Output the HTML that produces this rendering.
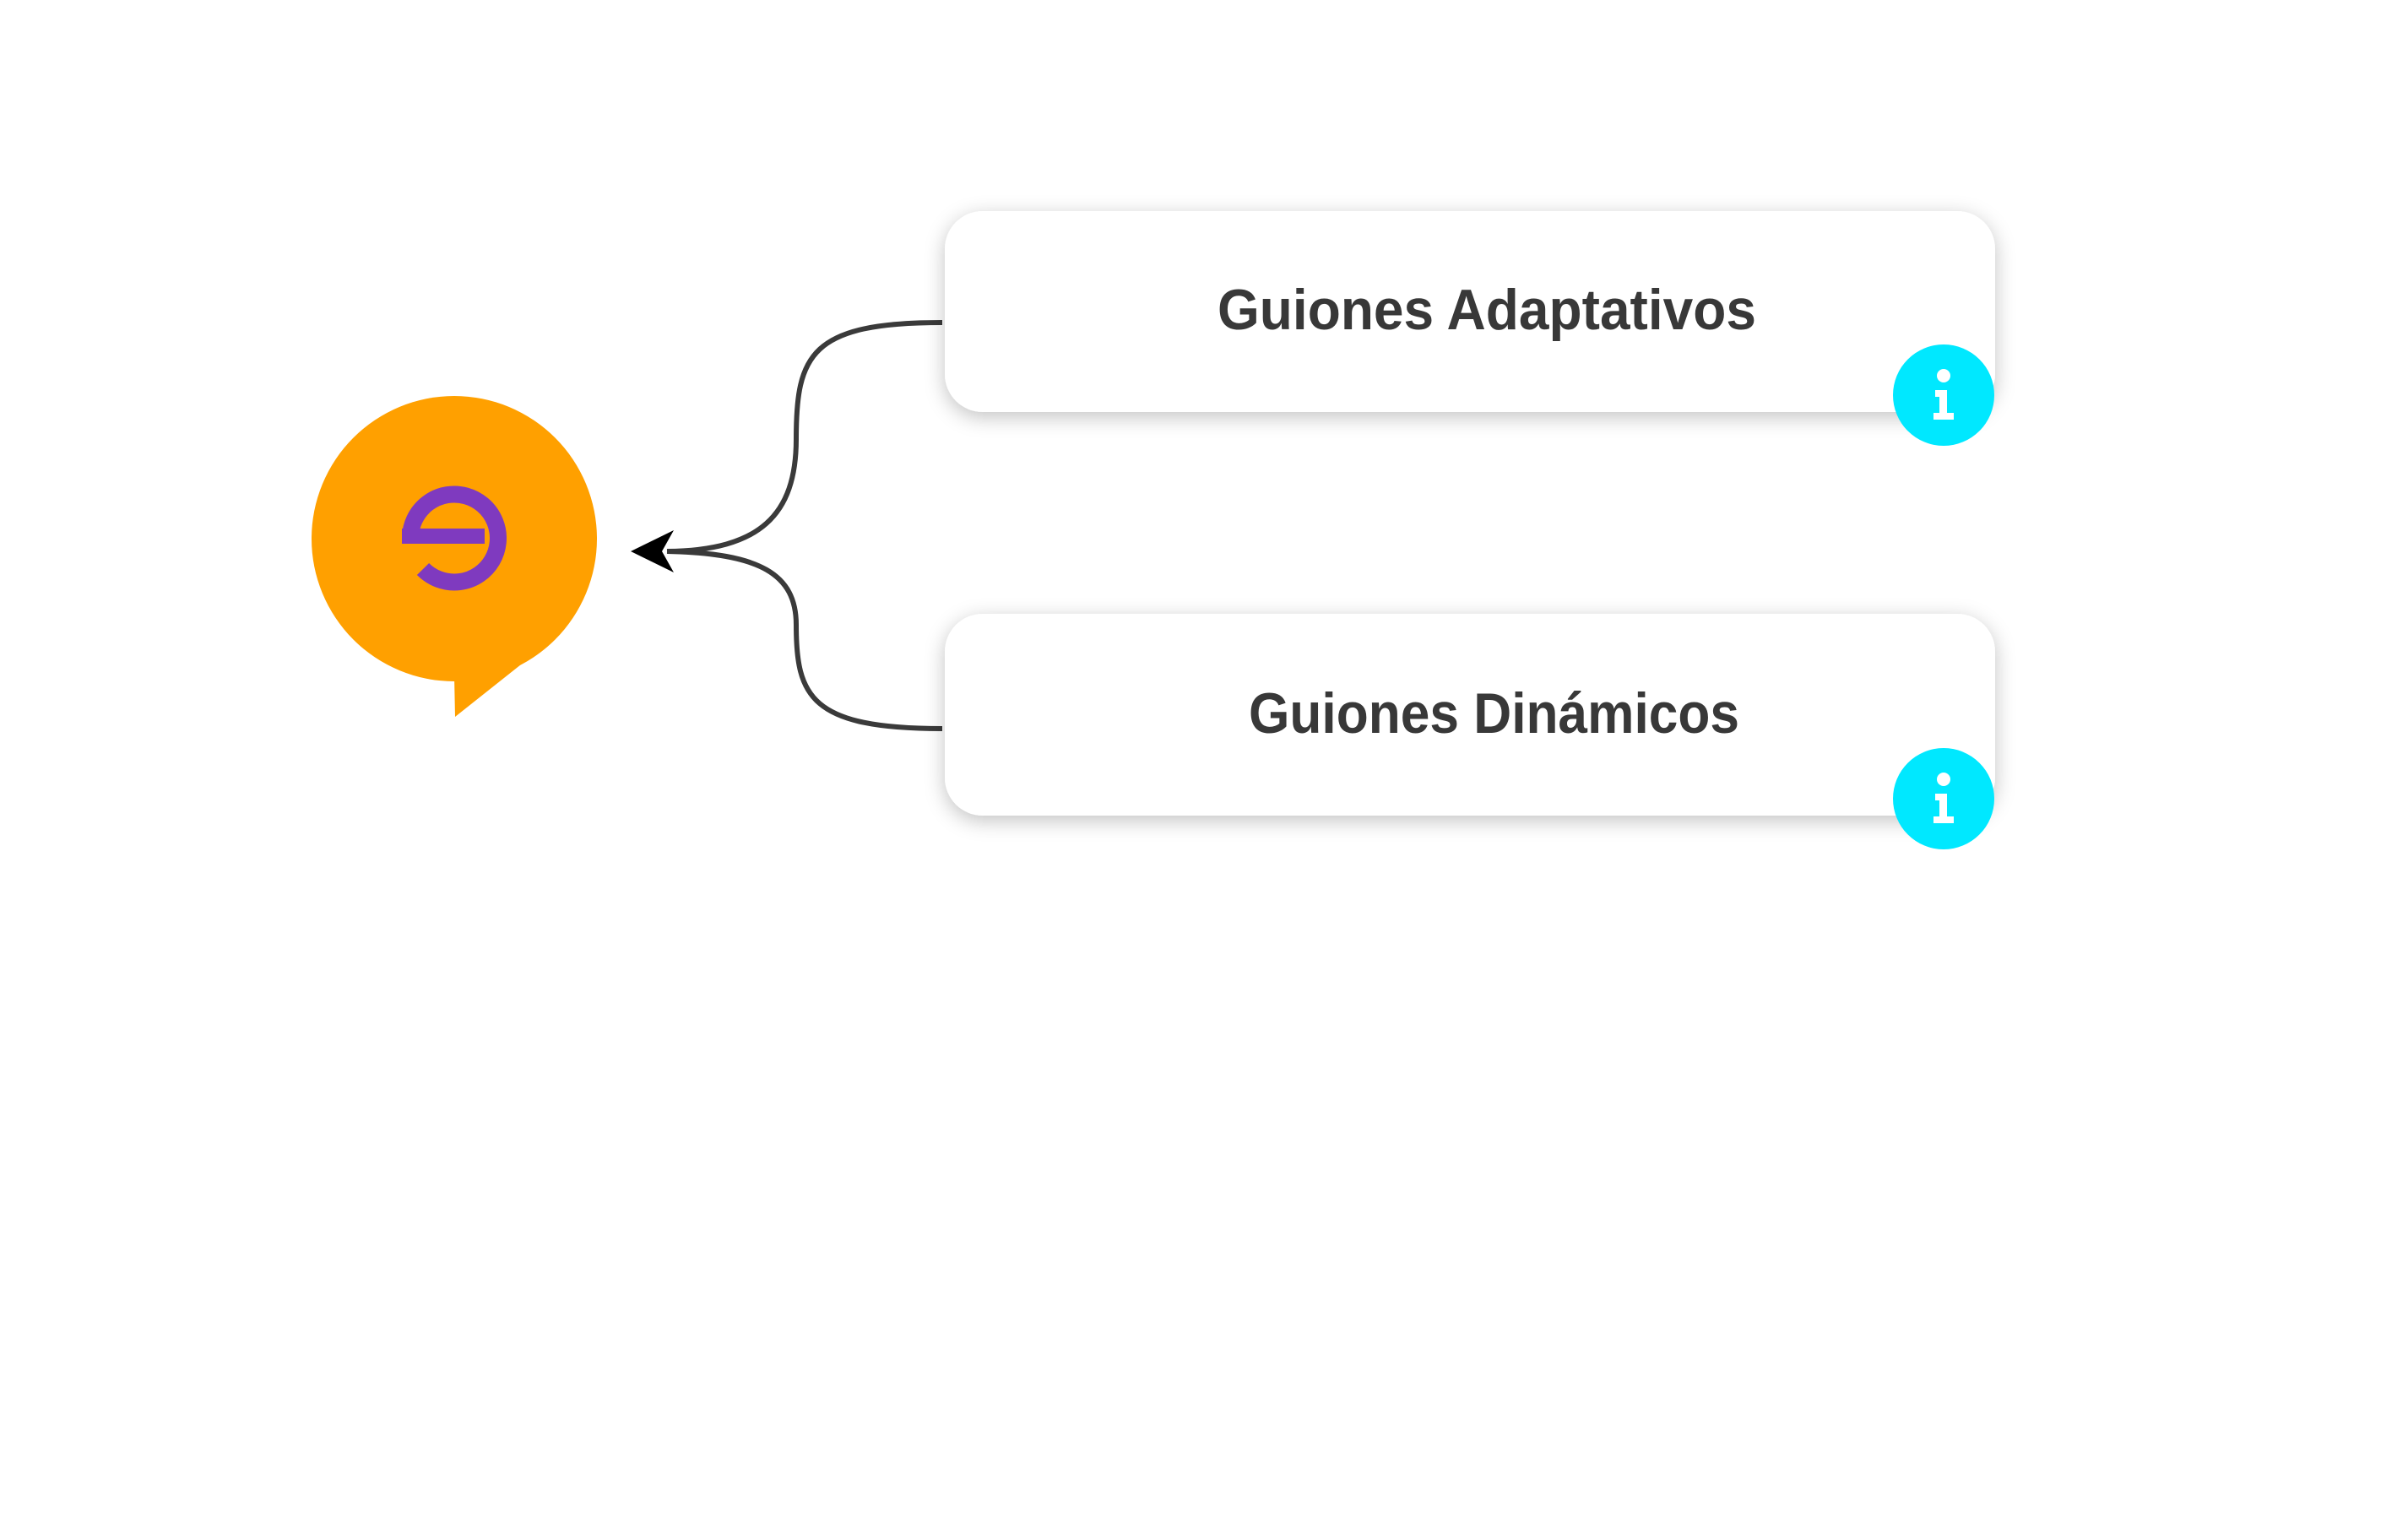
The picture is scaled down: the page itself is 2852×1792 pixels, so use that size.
<!DOCTYPE html>
<html><head><meta charset="utf-8"><style>
html,body{margin:0;padding:0;background:#fff;}
svg{display:block;}
</style></head><body>
<svg width="2852" height="1792" viewBox="0 0 2852 1792" xmlns="http://www.w3.org/2000/svg">
<defs>
<filter id="sh" x="-10%" y="-30%" width="120%" height="160%">
<feDropShadow dx="0" dy="6" stdDeviation="12" flood-color="#000" flood-opacity="0.24"/>
</filter>
</defs>
<rect width="2852" height="1792" fill="#fff"/>
<g fill="none" stroke="#3a3a3a" stroke-width="6">
<path d="M1116 382 C960 382 943 420 943 520 C943 610 900 652 790 653"/>
<path d="M1116 863 C960 863 943 825 943 740 C943 680 900 655 790 653"/>
</g>
<path d="M747 653 L798 628 L784 653 L798 678 Z" fill="#000"/>
<circle cx="538" cy="638" r="169" fill="#ffa000"/>
<path d="M538 800 L539 849 L636 772 L600 760 Z" fill="#ffa000"/>
<g fill="none" stroke="#7f3abf" stroke-width="20">
<path d="M486 644 L486 637 A52 52 0 1 1 501 674"/>
</g>
<rect x="476" y="626" width="98" height="18" fill="#7f3abf"/>
<rect x="1119" y="250" width="1244" height="238" rx="45" fill="#fff" filter="url(#sh)"/>
<rect x="1119" y="727" width="1244" height="239" rx="45" fill="#fff" filter="url(#sh)"/>
<g font-family="Liberation Sans, sans-serif" font-weight="bold" font-size="68" fill="#383838">
<text x="1442" y="390" textLength="638" lengthAdjust="spacingAndGlyphs">Guiones Adaptativos</text>
<text x="1479" y="868" textLength="581" lengthAdjust="spacingAndGlyphs">Guiones Dinámicos</text>
</g>
<g>
<circle cx="2302" cy="468" r="60" fill="#00e8ff"/>
<circle cx="2302" cy="445" r="8" fill="#fff"/>
<path d="M2292 462 L2306 462 L2306 489 L2314 489 L2314 497 L2290 497 L2290 489 L2297 489 L2297 470 L2292 470 Z" fill="#fff"/>
</g>
<g>
<circle cx="2302" cy="946" r="60" fill="#00e8ff"/>
<circle cx="2302" cy="923" r="8" fill="#fff"/>
<path d="M2292 940 L2306 940 L2306 967 L2314 967 L2314 975 L2290 975 L2290 967 L2297 967 L2297 948 L2292 948 Z" fill="#fff"/>
</g>
</svg>
</body></html>
